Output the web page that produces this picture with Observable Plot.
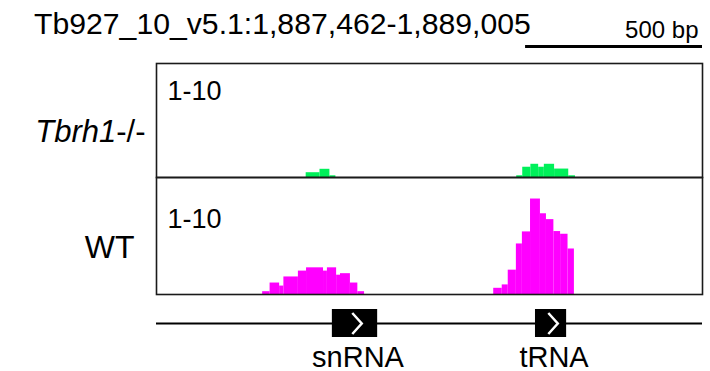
<!DOCTYPE html>
<html>
<head>
<meta charset="utf-8">
<script src="https://cdn.jsdelivr.net/npm/d3@7"></script>
<script src="https://cdn.jsdelivr.net/npm/@observablehq/plot@0.6"></script>
<style>
  html, body { margin: 0; padding: 0; background: #fff; }
  #fig { position: relative; width: 710px; height: 371px; overflow: hidden;
         font-family: "Liberation Sans", Arial, Helvetica, sans-serif; color: #000; }
  #fig svg { position: absolute; left: 0; display: block; overflow: visible; }
  #title { position: absolute; left: 34px; top: 9px; font-size: 30.2px; line-height: 1; white-space: nowrap; }
</style>
</head>
<body>
<div id="fig"><div id="title"></div></div>
<script>
// Genomic window
const chrom = "Tb927_10_v5.1";
const regionStart = 1887462;
const regionEnd = 1889005;
const scaleBarBp = 500;

// Tracks
const mutantGene = "Tbrh1";
const mutantAllele = "-/-";
const trackNames = [mutantGene + mutantAllele, "WT"];
const trackColors = ["#00f05a", "#ff00ff"];
const dataRange = [0, 10];
const dataRangeLabel = "1-10";

// Tbrh1-/- coverage bins
const koStart = [1887885, 1887924, 1887952, 1888480, 1888497, 1888520, 1888542, 1888558, 1888587, 1888627];
const koEnd   = [1887924, 1887952, 1887969, 1888497, 1888520, 1888542, 1888558, 1888587, 1888627, 1888646];
const koValue = [0.42, 0.72, 0.15, 0.15, 0.9, 1.16, 0.9, 1.16, 0.74, 0.15];

// WT coverage bins
const wtStart = [1887762, 1887783, 1887810, 1887822, 1887863, 1887886, 1887934, 1887945, 1887971, 1887982, 1888010, 1888031,
                 1888415, 1888439, 1888456, 1888479, 1888496, 1888519, 1888547, 1888564, 1888585, 1888604, 1888625];
const wtEnd   = [1887783, 1887810, 1887822, 1887863, 1887886, 1887934, 1887945, 1887971, 1887982, 1888010, 1888031, 1888050,
                 1888439, 1888456, 1888479, 1888496, 1888519, 1888547, 1888564, 1888585, 1888604, 1888625, 1888643];
const wtValue = [0.24, 0.98, 0.72, 1.5, 2.0, 2.28, 2.0, 2.28, 1.65, 1.78, 0.98, 0.24,
                 0.53, 0.82, 2.08, 4.32, 5.35, 8.16, 6.9, 6.4, 5.38, 5.15, 3.89];

// Gene annotation
const geneName  = ["snRNA", "tRNA"];
const geneStart = [1887959, 1888533];
const geneEnd   = [1888087, 1888621];

const bins = (s, e, v) => s.map((d, i) => ({start: d, end: e[i], value: v[i]}));
const coverage = [bins(koStart, koEnd, koValue), bins(wtStart, wtEnd, wtValue)];
const genes = geneName.map((name, i) => ({name, start: geneStart[i], end: geneEnd[i]}));

const fig = document.getElementById("fig");
const fmt = d3.format(",");
document.getElementById("title").textContent = `${chrom}:${fmt(regionStart)}-${fmt(regionEnd)}`;

const W = 710, ML = 156, MR = 8;
const xScale = {domain: [regionStart, regionEnd], axis: null};
const font = "'Liberation Sans', Arial, Helvetica, sans-serif";

function place(svg, top) {
  svg.style.top = top + "px";
  fig.appendChild(svg);
  return svg;
}

// Scale bar
place(Plot.plot({
  width: W, height: 62, marginLeft: ML, marginRight: MR, marginTop: 0, marginBottom: 0,
  style: {fontFamily: font, background: "transparent"},
  x: xScale,
  y: {domain: [0, 1], range: [46, 0], axis: null},
  marks: [
    Plot.ruleY([0], {x1: () => regionEnd - scaleBarBp, x2: () => regionEnd, stroke: "#000", strokeWidth: 3}),
    Plot.text([`${scaleBarBp} bp`], {x: () => regionEnd, y: () => 0, dy: -9, dx: -4, textAnchor: "end",
      lineAnchor: "bottom", fontSize: 24, fill: "#000"})
  ]
}), 0);

// Coverage tracks
const trackLayout = [
  {top: 62, height: 116, labelDx: -11, labelDy: 12, rangeDy: 36},
  {top: 176, height: 119, labelDx: -22, labelDy: 12, rangeDy: 50}
];
trackNames.forEach((name, i) => {
  const L = trackLayout[i];
  const svg = Plot.plot({
    width: W, height: L.height, marginLeft: ML, marginRight: MR, marginTop: 1, marginBottom: 1,
    style: {fontFamily: font, background: "transparent"},
    x: xScale,
    y: {domain: dataRange, axis: null},
    marks: [
      Plot.rect(coverage[i], {x1: "start", x2: "end", y1: () => 0, y2: "value", fill: trackColors[i]}),
      Plot.frame({stroke: "#1a1a1a", strokeWidth: 1.6}),
      Plot.text([dataRangeLabel], {frameAnchor: "top-left", dx: 11, dy: L.rangeDy, lineAnchor: "bottom",
        textAnchor: "start", fontSize: 27, fill: "#000"}),
      Plot.text([name], {frameAnchor: "left", dx: L.labelDx, dy: L.labelDy, textAnchor: "end",
        fontSize: i === 0 ? 31 : 32, fill: "#000"})
    ]
  });
  // italicise the gene symbol in the mutant label
  d3.select(svg).selectAll("text").filter(function() { return this.textContent === mutantGene + mutantAllele; })
    .each(function() {
      const t = d3.select(this);
      const tspan = t.select("tspan");
      const target = tspan.empty() ? t : tspan;
      target.text(null);
      target.append("tspan").attr("font-style", "italic").text(mutantGene);
      target.append("tspan").text(mutantAllele);
    });
  place(svg, L.top);
});

// Gene annotation track
const chevron = {
  draw(context, size) {
    const r = Math.sqrt(size / Math.PI);
    context.moveTo(-0.45 * r, -r);
    context.lineTo(0.45 * r, 0);
    context.lineTo(-0.45 * r, r);
  }
};
place(Plot.plot({
  width: W, height: 77, marginLeft: ML, marginRight: MR, marginTop: 0, marginBottom: 0,
  style: {fontFamily: font, background: "transparent"},
  x: xScale,
  y: {domain: [-1, 1], range: [43, 15], axis: null},
  marks: [
    Plot.ruleY([0], {stroke: "#000", strokeWidth: 2}),
    Plot.rect(genes, {x1: "start", x2: "end", y1: () => -1, y2: () => 1, fill: "#000"}),
    Plot.dot(genes, {x: d => (d.start + d.end) / 2, y: () => 0, dx: 2, r: 10.5, symbol: chevron,
      fill: "none", stroke: "#fff", strokeWidth: 2.5}),
    Plot.text(genes, {x: d => (d.start + d.end) / 2, text: "name", frameAnchor: "bottom", dy: -5,
      dx: 3, lineAnchor: "bottom", fontSize: 29, fill: "#000"})
  ]
}), 294);
</script>
</body>
</html>
